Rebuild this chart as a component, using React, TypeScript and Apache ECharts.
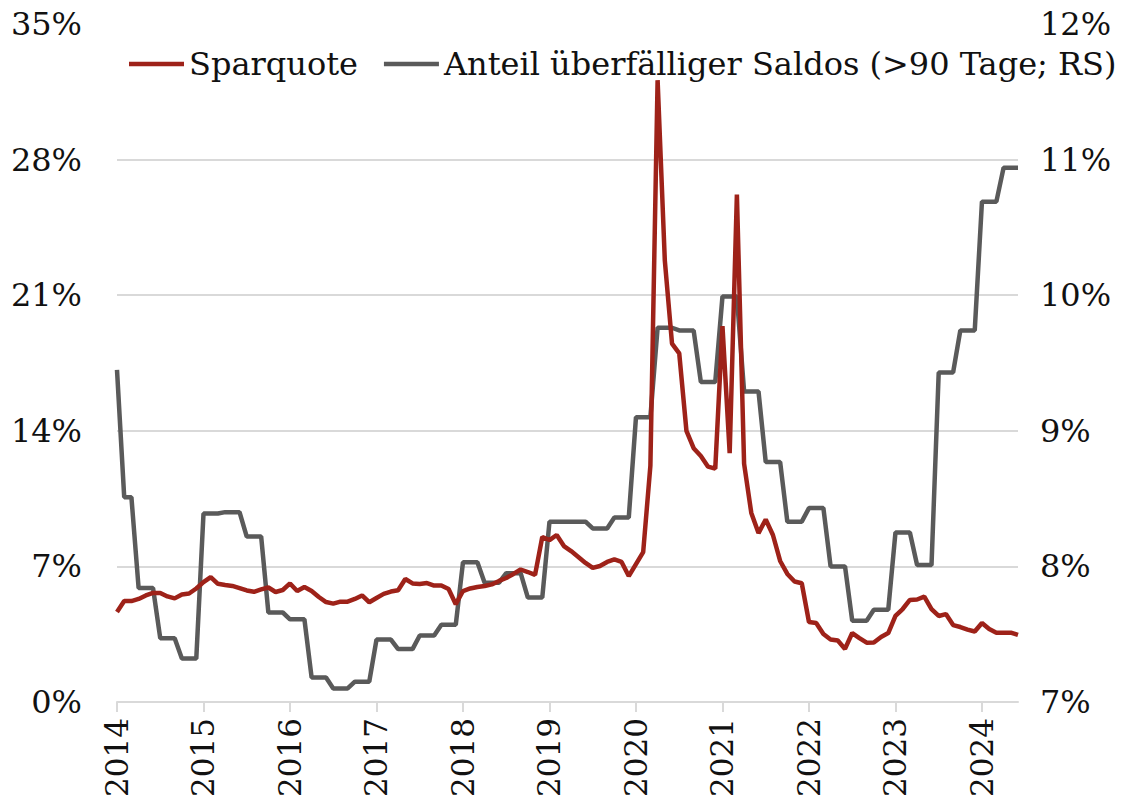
import React, { useEffect, useRef } from "react";
import * as echarts from "echarts";

const years = [2014, 2015, 2016, 2017, 2018, 2019, 2020, 2021, 2022, 2023, 2024];
const monthsInLastYear = 6;

const seriesNames = ["Sparquote", "Anteil überfälliger Saldos (>90 Tage; RS)"];

// Personal saving rate, % (left axis), monthly Jan 2014 – Jun 2024
const savingRate = [
  4.65, 5.21, 5.21, 5.32, 5.5, 5.63, 5.63, 5.45, 5.35, 5.55, 5.6, 5.86,
  6.19, 6.45, 6.1, 6.04, 5.99, 5.88, 5.76, 5.69, 5.81, 5.91, 5.68, 5.78,
  6.12, 5.73, 5.94, 5.73, 5.42, 5.16, 5.08, 5.18, 5.18, 5.32, 5.5, 5.15,
  5.37, 5.58, 5.7, 5.77, 6.35, 6.12, 6.09, 6.14, 6.01, 6.01, 5.83, 5.05,
  5.73, 5.86, 5.94, 5.99, 6.07, 6.25, 6.4, 6.61, 6.84, 6.71, 6.56, 8.52,
  8.36, 8.62, 8.05, 7.79, 7.49, 7.18, 6.92, 7.02, 7.23, 7.36, 7.23, 6.5,
  7.12, 7.74, 12.2, 32.1, 22.8, 18.5, 18.0, 14.0, 13.1, 12.7, 12.15, 12.05,
  19.4, 12.85, 26.2, 12.3, 9.76, 8.72, 9.42, 8.62, 7.28, 6.61, 6.22, 6.13,
  4.13, 4.08, 3.51, 3.23, 3.17, 2.74, 3.56, 3.3, 3.06, 3.07, 3.36, 3.56,
  4.44, 4.8, 5.27, 5.29, 5.44, 4.8, 4.44, 4.54, 3.97, 3.87, 3.74, 3.64,
  4.08, 3.77, 3.58, 3.58, 3.58, 3.46,
];

// Share of balances 90+ days delinquent, % (right axis), monthly
const delinquency = [
  9.45, 8.51, 8.51, 7.84, 7.84, 7.84, 7.47, 7.47, 7.47, 7.32, 7.32, 7.32,
  8.39, 8.39, 8.39, 8.4, 8.4, 8.4, 8.22, 8.22, 8.22, 7.66, 7.66, 7.66,
  7.61, 7.61, 7.61, 7.18, 7.18, 7.18, 7.1, 7.1, 7.1, 7.15, 7.15, 7.15,
  7.46, 7.46, 7.46, 7.39, 7.39, 7.39, 7.49, 7.49, 7.49, 7.57, 7.57, 7.57,
  8.03, 8.03, 8.03, 7.88, 7.88, 7.88, 7.95, 7.95, 7.95, 7.77, 7.77, 7.77,
  8.33, 8.33, 8.33, 8.33, 8.33, 8.33, 8.28, 8.28, 8.28, 8.36, 8.36, 8.36,
  9.1, 9.1, 9.1, 9.76, 9.76, 9.76, 9.74, 9.74, 9.74, 9.36, 9.36, 9.36,
  9.99, 9.99, 9.99, 9.29, 9.29, 9.29, 8.77, 8.77, 8.77, 8.33, 8.33, 8.33,
  8.43, 8.43, 8.43, 8.0, 8.0, 8.0, 7.6, 7.6, 7.6, 7.68, 7.68, 7.68,
  8.25, 8.25, 8.25, 8.01, 8.01, 8.01, 9.43, 9.43, 9.43, 9.74, 9.74, 9.74,
  10.69, 10.69, 10.69, 10.94, 10.94, 10.94,
];

const months: string[] = [];
years.forEach((y, i) => {
  const n = i === years.length - 1 ? monthsInLastYear : 12;
  for (let m = 1; m <= n; m++) months.push(`${y}-${String(m).padStart(2, "0")}`);
});

const FONT = "DejaVu Serif";
const RED = "#9e2219";
const GRAY = "#5a5a5a";

export default function App() {
  const ref = useRef<HTMLDivElement>(null);
  useEffect(() => {
    if (!ref.current) return;
    const chart = echarts.init(ref.current, undefined, { renderer: "svg" });
    const isJan = (idx: number) => idx % 12 === 0;
    chart.setOption({
      animation: false,
      textStyle: { fontFamily: FONT, color: "#111" },
      grid: { left: 117, right: 107, top: 24, bottom: 107, containLabel: false },
      legend: {
        top: 43,
        left: 124,
        icon: "rect",
        itemWidth: 55,
        itemHeight: 4.5,
        itemGap: 26,
        textStyle: { fontFamily: FONT, fontSize: 32, color: "#111" },
        data: seriesNames,
      },
      xAxis: {
        type: "category",
        data: months,
        boundaryGap: false,
        axisLine: { lineStyle: { color: "#d9d9d9", width: 2 } },
        axisTick: {
          interval: (idx: number) => isJan(idx),
          length: 10,
          lineStyle: { color: "#d9d9d9", width: 2 },
        },
        axisLabel: {
          interval: (idx: number) => isJan(idx),
          rotate: 90,
          margin: 16,
          fontFamily: FONT,
          fontSize: 31,
          color: "#111",
          formatter: (v: string) => v.slice(0, 4),
        },
        splitLine: { show: false },
      },
      yAxis: [
        {
          type: "value",
          min: 0,
          max: 35,
          interval: 7,
          axisLine: { show: false },
          axisTick: { show: false },
          axisLabel: {
            formatter: "{value}%",
            margin: 35,
            fontFamily: FONT,
            fontSize: 32,
            color: "#111",
          },
          splitLine: {
            show: true,
            showMaxLine: false,
            lineStyle: { color: "#d9d9d9", width: 2 },
          },
        },
        {
          type: "value",
          min: 7,
          max: 12,
          interval: 1,
          position: "right",
          axisLine: { show: false },
          axisTick: { show: false },
          axisLabel: {
            formatter: "{value}%",
            margin: 22,
            fontFamily: FONT,
            fontSize: 32,
            color: "#111",
          },
          splitLine: { show: false },
        },
      ],
      series: [
        {
          name: seriesNames[0],
          type: "line",
          data: savingRate,
          yAxisIndex: 0,
          symbol: "none",
          lineStyle: { color: RED, width: 4.5 },
          itemStyle: { color: RED },
          z: 3,
        },
        {
          name: seriesNames[1],
          type: "line",
          data: delinquency,
          yAxisIndex: 1,
          symbol: "none",
          lineStyle: { color: GRAY, width: 4.5 },
          itemStyle: { color: GRAY },
          z: 2,
        },
      ],
    });
    return () => chart.dispose();
  }, []);
  return (
    <div
      ref={ref}
      style={{ position: "absolute", left: 0, top: 0, width: 1125, height: 809 }}
    />
  );
}
